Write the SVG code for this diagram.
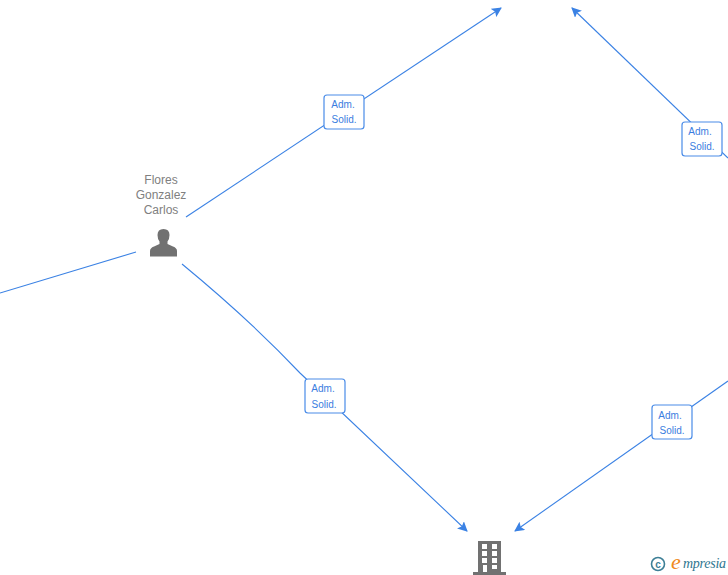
<svg xmlns="http://www.w3.org/2000/svg" width="728" height="575" viewBox="0 0 728 575">
<style>
.c{fill:none;stroke:#3b82e4;stroke-width:1.1}
.b{fill:#fff;stroke:#4a8ce8;stroke-width:1.2}
.l{font:10px "Liberation Sans",Arial,sans-serif;fill:#3a7de0;text-anchor:middle}
.n{font:12px "Liberation Sans",Arial,sans-serif;fill:#808080;text-anchor:middle}
.i{fill:#717171}
</style>
<defs>
<marker id="a" viewBox="0 0 10 10" refX="9" refY="5" markerWidth="10" markerHeight="10" markerUnits="userSpaceOnUse" orient="auto"><path d="M0 0L10 5L0 10L2 5Z" fill="#3b82e4"/></marker>
</defs>
<rect width="728" height="575" fill="#fff"/>
<g id="connectors">
<path class="c" d="M186 217L501 8" marker-end="url(#a)"/>
<path class="c" d="M728 158L572 8" marker-end="url(#a)"/>
<path class="c" d="M0 293L136 252"/>
<path class="c" d="M182 264Q250 320 300 373L467 531" marker-end="url(#a)"/>
<path class="c" d="M728 381L515 531" marker-end="url(#a)"/>
</g>
<g id="label-1"><rect class="b" x="324" y="95" width="40" height="34" rx="3"/><text class="l" x="343" y="108">Adm.</text><text class="l" x="344" y="123">Solid.</text></g>
<g id="label-2"><rect class="b" x="682" y="122" width="40" height="34" rx="3"/><text class="l" x="700" y="135">Adm.</text><text class="l" x="702" y="150">Solid.</text></g>
<g id="label-3"><rect class="b" x="305" y="379" width="40" height="34" rx="3"/><text class="l" x="323" y="392">Adm.</text><text class="l" x="324" y="408">Solid.</text></g>
<g id="label-4"><rect class="b" x="652" y="405" width="40" height="34" rx="3"/><text class="l" x="670" y="419">Adm.</text><text class="l" x="672" y="434">Solid.</text></g>
<g id="person">
<text class="n" x="161" y="184">Flores</text><text class="n" x="161" y="199">Gonzalez</text><text class="n" x="161" y="214">Carlos</text>
<path class="i" d="M150 256.500V251Q150 248 154 246.500L159.500 244V241.500Q157.500 239 157.500 235Q157.500 229 163.500 229Q169.500 229 169.500 235Q169.500 239 167.500 241.500V244L173 246.500Q177 248 177 251V256.500Z"/>
</g>
<g id="building">
<path class="i" fill-rule="evenodd" d="M478 541H501V572H506V575H473V572H478ZM482 544V549H487V544ZM492 544V549H497V544ZM482 551V556H487V551ZM492 551V556H497V551ZM482 558V563H487V558ZM492 558V563H497V558ZM483 565V572H487V565ZM492 565V569H497V565Z"/>
</g>
<g id="logo">
<circle cx="658" cy="564" r="6.500" fill="none" stroke="#3d7f96" stroke-width="1.600"/>
<text x="658" y="567.500" font-family="Liberation Sans,sans-serif" font-size="10" font-weight="bold" fill="#3d7f96" text-anchor="middle">c</text>
<text x="671" y="569" font-family="Liberation Serif,serif" font-style="italic" font-size="22" fill="#f08a1d">e</text>
<text x="683" y="568" font-family="Liberation Serif,serif" font-style="italic" font-size="14" fill="#2f7690" textLength="43">mpresia</text>
</g>
</svg>
